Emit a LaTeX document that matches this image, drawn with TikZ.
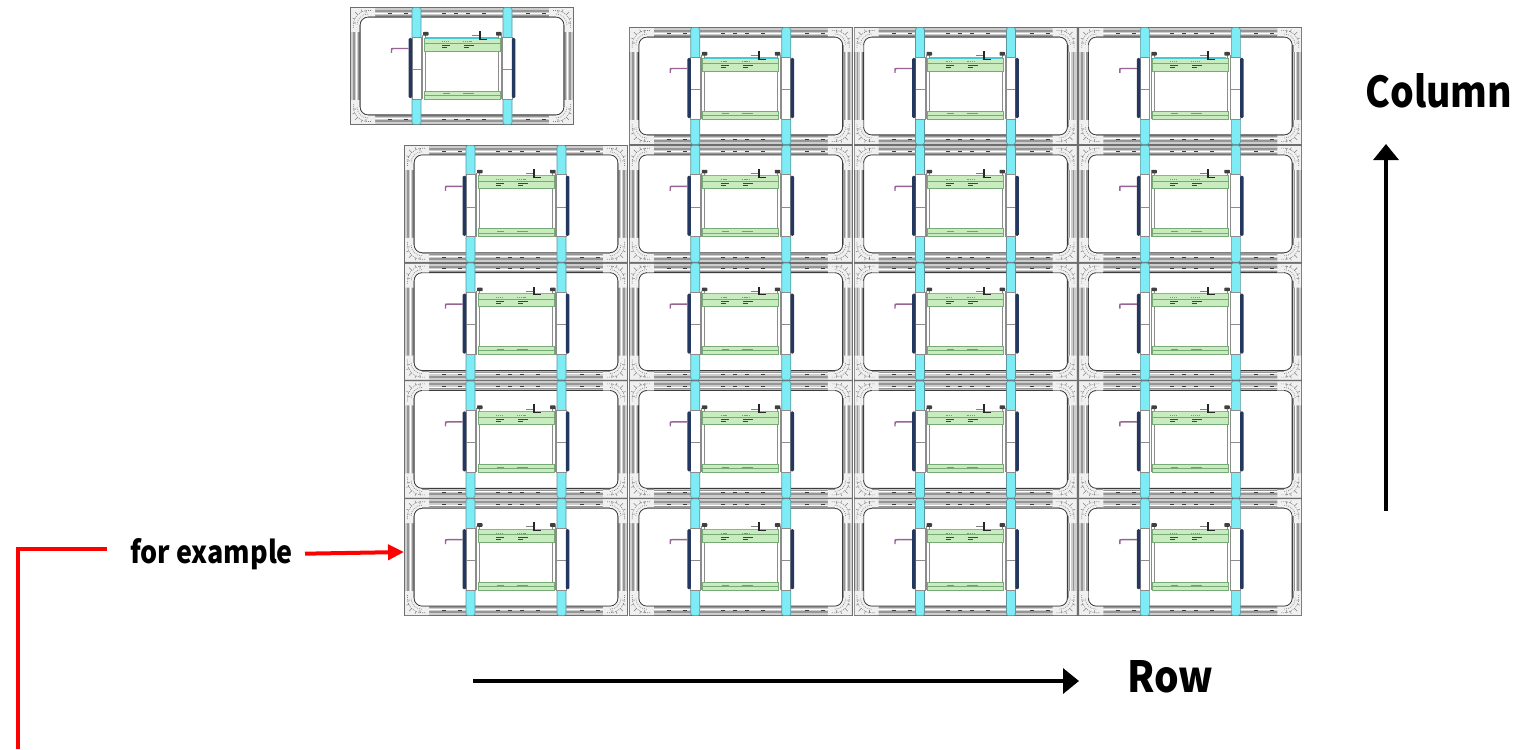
\documentclass[tikz,border=0pt]{standalone}
\usepackage{fontspec}
\usetikzlibrary{arrows.meta}
\newfontfamily\lab{Noto Sans CJK JP}
\definecolor{framefill}{RGB}{205,205,205}
\definecolor{framedark}{RGB}{110,110,110}
\definecolor{framemid}{RGB}{150,150,150}
\definecolor{innerdark}{RGB}{60,60,60}
\definecolor{cornerfill}{RGB}{240,240,240}
\definecolor{cornerdot}{RGB}{130,130,130}
\definecolor{cyanbar}{RGB}{125,236,245}
\definecolor{cyanedge}{RGB}{90,150,160}
\definecolor{cyanline}{RGB}{70,200,215}
\definecolor{brgray}{RGB}{140,140,140}
\definecolor{greenfill}{RGB}{200,236,190}
\definecolor{greenline}{RGB}{120,170,120}
\definecolor{navybar}{RGB}{35,55,95}
\definecolor{purp}{RGB}{150,100,150}
\definecolor{bluemark}{RGB}{40,70,110}
\tikzset{
  x=0.75pt, y=-0.75pt,
  redline/.style={draw=red, line width=3pt, line join=miter},
  blackarrow/.style={draw=black, line width=2.6pt, -{Triangle[length=12pt, width=18.75pt]}},
  redarrow/.style={draw=red, line width=3pt, -{Triangle[length=12pt, width=11.25pt]}},
  labeltext/.style={inner sep=0pt, text=black, font=\lab\bfseries},
  cab/.pic={
    % frame
    \fill[framefill] (0,0) rectangle (224,118);
    \draw[framedark, line width=0.6pt] (0.4,0.4) rectangle (223.6,117.6);
    \draw[framemid, line width=1.4pt] (4,4) rectangle (220,114);
    \draw[white, line width=0.6pt] (6.8,6.8) rectangle (217.2,111.2);
    \draw[framemid, line width=0.5pt] (8.4,8.4) rectangle (215.6,109.6);
    \filldraw[fill=white, draw=innerdark, line width=0.8pt, rounded corners=6pt] (10,10) rectangle (214,108);
    % small marks in the frame bands
    \foreach \mx in {38,54,92,104,116,132,176,192} {
      \draw[innerdark, line width=0.4pt] (\mx,6) -- ++(4,0);
      \draw[innerdark, line width=0.4pt] (\mx,112) -- ++(4,0);
    }
    % corner brackets
    \foreach \sx/\sy/\ox/\oy in {1/1/0/0, -1/1/224/0, 1/-1/0/118, -1/-1/224/118} {
      \begin{scope}[shift={(\ox,\oy)}, xscale=\sx, yscale=\sy]
        \fill[cornerfill] (1.2,1.2) -- (25,1.2) -- (25,9.5) -- (18,9.5)
          .. controls (13.3,9.5) and (9.5,13.3) .. (9.5,18) -- (9.5,25) -- (1.2,25) -- cycle;
        \draw[cornerdot, line width=0.5pt, dash pattern=on 0.6pt off 0.9pt]
          (18,7) .. controls (11.9,7) and (7,11.9) .. (7,18);
        \draw[cornerdot, line width=0.5pt, dash pattern=on 0.6pt off 0.9pt]
          (21,3.5) -- (18,3.5) .. controls (10,3.5) and (3.5,10) .. (3.5,18) -- (3.5,21);
        \draw[cornerdot, line width=0.4pt] (8,8) -- (5,5) (12,5) -- (11,2.5) (5,12) -- (2.5,11)
          (16,3) -- (16,6) (3,16) -- (6,16);
        \draw[framemid, line width=0.4pt] (9.5,18) -- (9.5,25) (18,9.5) -- (25,9.5);
      \end{scope}
    }
    % cyan bars
    \filldraw[fill=cyanbar, draw=cyanedge, line width=0.4pt, rounded corners=1.2pt] (62,0.6) rectangle (71,117.4);
    \filldraw[fill=cyanbar, draw=cyanedge, line width=0.4pt, rounded corners=1.2pt] (153,0.6) rectangle (162,117.4);
    % brackets
    \filldraw[fill=white, draw=brgray, line width=0.5pt] (62,30) rectangle (71.5,92);
    \filldraw[fill=white, draw=brgray, line width=0.5pt] (152.5,30) rectangle (162,92);
    \draw[brgray, line width=0.4pt] (62,62) -- (71.5,62) (152.5,62) -- (162,62);
    \draw[brgray, line width=0.4pt] (72.5,28) -- (72.5,92) (75.5,28) -- (75.5,92)
      (148.5,28) -- (148.5,92) (151.5,28) -- (151.5,92);
    % green bands
    \filldraw[fill=greenfill, draw=greenline, line width=0.5pt] (74,31) rectangle (150,44);
    \draw[greenline, line width=0.4pt] (74,36.5) -- (150,36.5);
    \draw[cyanline, line width=0.9pt] (76,31) -- (148,31);
    \filldraw[fill=greenfill, draw=greenline, line width=0.5pt] (74,84) rectangle (150,92);
    \draw[greenline, line width=0.4pt] (74,88) -- (150,88);
    % tiny marks in the bands
    \draw[bluemark, line width=0.5pt] (92,38.8) -- (100,38.8) (92,40.8) -- (97,40.8)
      (114,38.8) -- (124,38.8) (114,40.8) -- (119,40.8);
    \draw[brgray, line width=0.3pt, dash pattern=on 0.8pt off 0.6pt] (92,34.5) -- (98,34.5) (113,34.5) -- (122,34.5);
    \draw[brgray, line width=0.3pt] (93,86.5) -- (100,86.5) (113,86.5) -- (124,86.5);
    % navy handles
    \fill[navybar, rounded corners=1pt] (58.6,31) rectangle (62.2,91);
    \fill[navybar, rounded corners=1pt] (161.8,31) rectangle (165.4,91);
    % knobs
    \fill[black!75, rounded corners=0.5pt] (73,25) rectangle (78.5,28.6);
    \fill[black!75, rounded corners=0.5pt] (146,25) rectangle (151.5,28.6);
    % small symbol
    \draw[gray, line width=0.5pt] (122,28.5) -- (129,28.5);
    \fill[black!85] (129,24) rectangle (131.2,32.5);
    \draw[black!85, line width=0.8pt] (129,32.3) -- (137,32.3);
    % purple hook
    \draw[purp, line width=1.1pt] (41.5,46) -- (41.5,43.5) .. controls (41.5,41.5) .. (43.5,41.5) -- (58.6,41.5);
  }
}
\begin{document}
\begin{tikzpicture}
\useasboundingbox (0,0) rectangle (1519,749);
% cabinets
\pic (solo) at (350,7) {cab};
\foreach \i in {1,2,3} {
  \pic (top\i) at ({404+\i*224.75},27) {cab};
}
\foreach \i in {0,1,2,3} {
  \foreach \j in {1,2,3,4} {
    \pic (c\i\j) at ({404+\i*224.75},{27+\j*117.8}) {cab};
  }
}
% labels
\node[labeltext, anchor=base west] (col) at (1365,108) {\resizebox{110.25pt}{25.5pt}{Column}};
\node[labeltext, anchor=base west] (row) at (1127,692) {\resizebox{64.5pt}{24pt}{Row}};
\node[labeltext, anchor=base west, outer xsep=9pt] (fe) at (118,563) {\resizebox{122.25pt}{18.75pt}{for example}};
% arrows
\coordinate (c0) at (1386,511);
\coordinate (c1) at (1386,144);
\draw[blackarrow] (c0) -- (c1);
\coordinate (r0) at (473,681);
\coordinate (r1) at (1079,681);
\draw[blackarrow] (r0) -- (r1);
\coordinate (ex) at (404,552);
\draw[redarrow] (fe.east) -- (ex);
\coordinate (rl0) at (17.5,749);
\coordinate (rl1) at (107,549);
\draw[redline] (rl0) |- (rl1);
\end{tikzpicture}
\end{document}
